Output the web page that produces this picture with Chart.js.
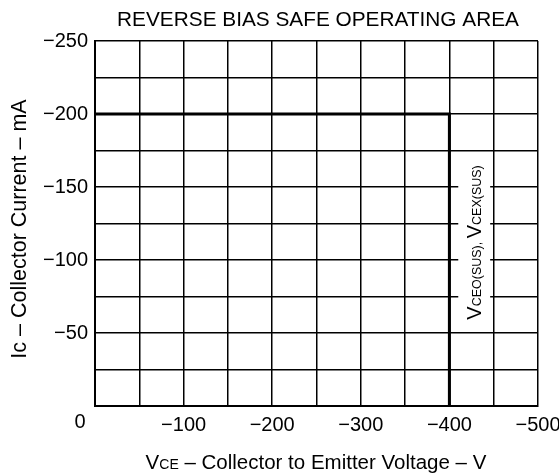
<!DOCTYPE html>
<html>
<head>
<meta charset="utf-8">
<script src="https://cdn.jsdelivr.net/npm/chart.js@4/dist/chart.umd.min.js"></script>
<style>
  html, body { margin: 0; padding: 0; background: #ffffff; }
  #wrap { width: 559px; height: 476px; }
</style>
</head>
<body>
<div id="wrap"><canvas id="rbsoaChart" width="559" height="476"></canvas></div>
<script>
// chart data
const vceValues = [0, -400, -400];      // V
const icValues = [-200, -200, 0];       // mA
const xTickLabels = [-100, -200, -300, -400, -500];
const yTickLabels = [-50, -100, -150, -200, -250];

const FONT = "'Liberation Sans', Arial, Helvetica, sans-serif";

function minus(v) {
    return String(v).replace('-', '\u2212');
}

// draws title, axis titles, the shared "0" and the VCEO label
const extraText = {
    id: 'extraText',
    afterDraw: function(chart) {
        const ctx = chart.ctx;
        const xs = chart.scales.x;
        const ys = chart.scales.y;
        const area = chart.chartArea;
        ctx.save();
        ctx.fillStyle = '#000';
        ctx.textBaseline = 'middle';

        // title
        ctx.textAlign = 'center';
        ctx.font = '20.8px ' + FONT;
        ctx.fillText('REVERSE BIAS SAFE OPERATING AREA', 318, 20);

        // origin label
        ctx.font = '20px ' + FONT;
        ctx.fillText('0', xs.getPixelForValue(0) - 15, 422);

        // x axis title with small-caps subscript
        drawMixed(ctx, [
            ['V', 20.5], ['CE', 14], [' \u2013 Collector to Emitter Voltage \u2013 V', 20.5]
        ], 316, 462, 0);

        // y axis title
        drawMixed(ctx, [
            ['Ic \u2013 Collector Current \u2013 mA', 21.5]
        ], 19, 229, -Math.PI / 2);

        // VCEO(SUS) label box over the grid
        const bx0 = xs.getPixelForValue(-410);
        const bx1 = xs.getPixelForValue(-446);
        const by0 = ys.getPixelForValue(-166);
        const by1 = ys.getPixelForValue(-60);
        ctx.fillStyle = '#fff';
        ctx.fillRect(bx0, by0, bx1 - bx0, by1 - by0);
        ctx.fillStyle = '#000';
        drawMixed(ctx, [
            ['V', 20], ['CEO(SUS), ', 12.5], ['V', 20], ['CEX(SUS)', 12.5]
        ], xs.getPixelForValue(-428), ys.getPixelForValue(-112), -Math.PI / 2);

        ctx.restore();
    }
};

function drawMixed(ctx, parts, cx, cy, angle) {
    let total = 0;
    parts.forEach(function(p) {
        ctx.font = p[1] + 'px ' + FONT;
        total += ctx.measureText(p[0]).width;
    });
    ctx.save();
    ctx.translate(cx, cy);
    ctx.rotate(angle);
    ctx.textAlign = 'left';
    ctx.textBaseline = 'alphabetic';
    let x = -total / 2;
    parts.forEach(function(p) {
        ctx.font = p[1] + 'px ' + FONT;
        ctx.fillText(p[0], x, 7);
        x += ctx.measureText(p[0]).width;
    });
    ctx.restore();
}

new Chart(document.getElementById('rbsoaChart').getContext('2d'), {
    type: 'line',
    data: {
        datasets: [{
            data: vceValues.map(function(v, i) { return { x: v, y: icValues[i] }; }),
            borderColor: '#000',
            borderWidth: 3,
            pointRadius: 0,
            tension: 0,
            fill: false
        }]
    },
    options: {
        responsive: false,
        animation: false,
        layout: { padding: { left: 0, top: 41, right: 21, bottom: 0 } },
        plugins: {
            legend: { display: false },
            tooltip: { enabled: false }
        },
        scales: {
            x: {
                type: 'linear',
                min: -500,
                max: 0,
                reverse: true,
                afterFit: function(scale) {
                    scale.height = 70;
                    scale.paddingLeft = 0;
                    scale.paddingRight = 0;
                },
                border: { display: true, color: '#000', width: 2 },
                grid: { color: '#000', lineWidth: 1.5, drawTicks: false },
                ticks: {
                    stepSize: 50,
                    padding: 7,
                    color: '#000',
                    font: { family: FONT, size: 20 },
                    maxRotation: 0,
                    autoSkip: false,
                    callback: function(v) {
                        return xTickLabels.includes(v) ? minus(v) : '';
                    }
                }
            },
            y: {
                type: 'linear',
                min: -250,
                max: 0,
                reverse: true,
                afterFit: function(scale) {
                    scale.width = 95;
                    scale.paddingTop = 0;
                    scale.paddingBottom = 0;
                },
                border: { display: true, color: '#000', width: 2 },
                grid: { color: '#000', lineWidth: 1.5, drawTicks: false },
                ticks: {
                    stepSize: 25,
                    padding: 7,
                    color: '#000',
                    font: { family: FONT, size: 20 },
                    autoSkip: false,
                    callback: function(v) {
                        return yTickLabels.includes(v) ? minus(v) : '';
                    }
                }
            }
        }
    },
    plugins: [extraText]
});
</script>
</body>
</html>
